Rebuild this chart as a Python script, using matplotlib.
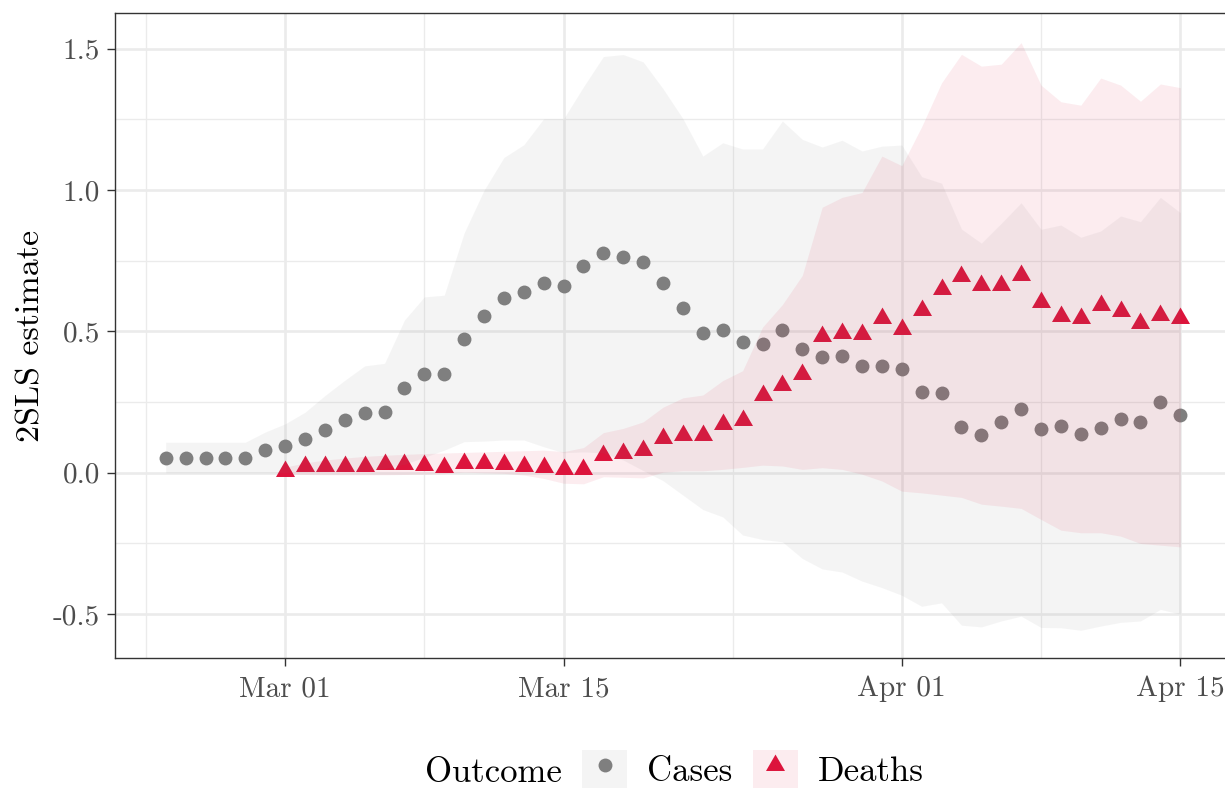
import matplotlib
matplotlib.use("Agg")
import matplotlib.pyplot as plt
from matplotlib.patches import Patch
from matplotlib.lines import Line2D
from matplotlib.path import Path
import numpy as np
import pandas as pd

plt.rcParams['font.family'] = ['cmr10', 'DejaVu Serif']
plt.rcParams['axes.formatter.use_mathtext'] = True

# daily dates for each outcome
cases_dates = pd.date_range("2020-02-24", "2020-04-15", freq="D")
deaths_dates = pd.date_range("2020-03-01", "2020-04-15", freq="D")

# 2SLS estimates and confidence bounds, Cases (Feb 24 - Apr 15)
cases_est = [0.054, 0.054, 0.054, 0.051, 0.051, 0.079,
             0.094, 0.119, 0.150, 0.186, 0.210, 0.216, 0.301, 0.348, 0.350, 0.474,
             0.554, 0.619, 0.639, 0.672, 0.660, 0.732, 0.779, 0.764, 0.746, 0.670,
             0.581, 0.493, 0.506, 0.463, 0.456, 0.506, 0.438, 0.408, 0.412, 0.377, 0.377,
             0.367, 0.287, 0.283, 0.163, 0.133, 0.180, 0.227, 0.155, 0.166, 0.138,
             0.157, 0.191, 0.180, 0.249, 0.205]
cases_hi = [0.108, 0.108, 0.108, 0.108, 0.108, 0.144,
            0.173, 0.214, 0.273, 0.327, 0.378, 0.387, 0.540, 0.622, 0.628, 0.848,
            0.999, 1.115, 1.160, 1.252, 1.252, 1.365, 1.472, 1.479, 1.453, 1.358,
            1.252, 1.120, 1.167, 1.145, 1.145, 1.244, 1.179, 1.152, 1.176, 1.138, 1.155,
            1.159, 1.047, 1.024, 0.862, 0.812, 0.882, 0.955, 0.861, 0.876, 0.833,
            0.855, 0.908, 0.888, 0.974, 0.920]
cases_lo = [0.0, 0.0, 0.0, 0.0, 0.0, 0.0,
            0.0, 0.002, 0.003, 0.005, 0.008, 0.015, 0.030, 0.055, 0.080, 0.110,
            0.112, 0.116, 0.116, 0.092, 0.071, 0.074, 0.070, 0.045, 0.008, -0.028,
            -0.079, -0.130, -0.156, -0.220, -0.236, -0.244, -0.303, -0.340, -0.351, -0.383, -0.406,
            -0.433, -0.472, -0.460, -0.539, -0.545, -0.524, -0.507, -0.547, -0.548, -0.557,
            -0.542, -0.529, -0.524, -0.483, -0.500]

# Deaths (Mar 01 - Apr 15)
deaths_est = [0.005, 0.025, 0.025, 0.025, 0.025, 0.030, 0.030, 0.028, 0.019, 0.033,
              0.033, 0.031, 0.025, 0.021, 0.012, 0.015, 0.063, 0.071, 0.082, 0.122,
              0.135, 0.135, 0.172, 0.186, 0.274, 0.311, 0.349, 0.483, 0.493, 0.490, 0.546,
              0.510, 0.574, 0.651, 0.697, 0.664, 0.664, 0.698, 0.603, 0.555, 0.546,
              0.594, 0.572, 0.530, 0.559, 0.549]
deaths_hi = [0.020, 0.035, 0.045, 0.052, 0.058, 0.062, 0.065, 0.068, 0.070, 0.072,
             0.074, 0.076, 0.078, 0.080, 0.075, 0.089, 0.142, 0.157, 0.180, 0.232,
             0.265, 0.275, 0.326, 0.361, 0.515, 0.595, 0.698, 0.939, 0.974, 0.991, 1.120,
             1.086, 1.224, 1.379, 1.480, 1.438, 1.445, 1.521, 1.371, 1.312, 1.300,
             1.396, 1.371, 1.314, 1.375, 1.362]
deaths_lo = [-0.005, -0.006, -0.007, -0.007, -0.007, -0.007, -0.006, -0.005, -0.003, 0.002,
             0.000, -0.002, -0.008, -0.020, -0.037, -0.039, -0.014, -0.016, -0.018, 0.002,
             0.007, 0.007, 0.012, 0.019, 0.027, 0.024, 0.012, 0.018, 0.012, -0.005, -0.029,
             -0.065, -0.071, -0.079, -0.087, -0.111, -0.118, -0.126, -0.165, -0.203, -0.212,
             -0.212, -0.224, -0.250, -0.256, -0.262]

y_ticks = [-0.5, 0.0, 0.5, 1.0, 1.5]
y_tick_labels = ["-0.5", "0.0", "0.5", "1.0", "1.5"]
x_ticks = pd.to_datetime(["2020-03-01", "2020-03-15", "2020-04-01", "2020-04-15"])
x_tick_labels = ["Mar 01", "Mar 15", "Apr 01", "Apr 15"]
x_minor = pd.to_datetime(["2020-02-23 00:00", "2020-03-08 00:00", "2020-03-23 12:00", "2020-04-08 00:00"])

GREY = "#7F7F7F"
CRIMSON = "#DC143C"

# equilateral triangle like ggplot shape 17
s3 = np.sqrt(3)
tri = Path([(0, 1 / s3), (-0.5, -0.5 / s3), (0.5, -0.5 / s3), (0, 1 / s3)],
           [Path.MOVETO, Path.LINETO, Path.LINETO, Path.CLOSEPOLY])

fig = plt.figure(figsize=(12.25, 7.9), dpi=100)
ax = fig.add_axes([115 / 1225, 1 - 658 / 790, (1231 - 115) / 1225, (658 - 13) / 790])

ax.scatter(cases_dates, cases_est, s=100, color=GREY, linewidths=0, zorder=2)
ax.scatter(deaths_dates, deaths_est, s=250, marker=tri, color=CRIMSON, linewidths=0, zorder=2)
ax.fill_between(cases_dates, cases_lo, cases_hi, color=GREY, alpha=0.08, lw=0, zorder=3)
ax.fill_between(deaths_dates, deaths_lo, deaths_hi, color=CRIMSON, alpha=0.08, lw=0, zorder=3)

pad_days = 0.05 * (cases_dates[-1] - cases_dates[0])
ax.set_xlim(cases_dates[0] - pad_days, cases_dates[-1] + pad_days)
ax.set_ylim(-0.655, 1.626)

ax.set_xticks(x_ticks)
ax.set_xticklabels(x_tick_labels)
ax.set_xticks(x_minor, minor=True)
ax.set_yticks(y_ticks)
ax.set_yticklabels(y_tick_labels)
ax.set_yticks([-0.25, 0.25, 0.75, 1.25], minor=True)

ax.grid(True, which="major", color="#EBEBEB", lw=1.9)
ax.grid(True, which="minor", color="#EBEBEB", lw=0.95)
ax.set_axisbelow(True)

ax.tick_params(which="major", length=5.8, width=1.0, color="#333333",
               labelcolor="#4D4D4D", labelsize=21, pad=5)
ax.tick_params(axis="x", which="major", pad=7)
ax.tick_params(which="minor", length=0)
for sp in ax.spines.values():
    sp.set_color("#333333")
    sp.set_linewidth(1.0)

ax.set_ylabel("2SLS estimate", fontsize=24.5, labelpad=5)

# legend at the bottom, title to the left
handles = [(Patch(facecolor=GREY, alpha=0.08, lw=0),
            Line2D([], [], marker="o", ls="none", color=GREY, markersize=10, markeredgewidth=0)),
           (Patch(facecolor=CRIMSON, alpha=0.08, lw=0),
            Line2D([], [], marker=tri, ls="none", color=CRIMSON, markersize=15.8, markeredgewidth=0))]
fig.text(425 / 1225, 1 - 782 / 790, "Outcome", ha="left", va="baseline", fontsize=25)
fig.legend(handles, ["Cases", "Deaths"], loc="center left",
           bbox_to_anchor=(582 / 1225, 1 - 769 / 790), ncol=2, frameon=False,
           prop={"size": 25}, handlelength=1.3, handleheight=1.3,
           handletextpad=0.58, columnspacing=0.58, borderpad=0, borderaxespad=0)

fig.savefig("out.png", dpi=100)
